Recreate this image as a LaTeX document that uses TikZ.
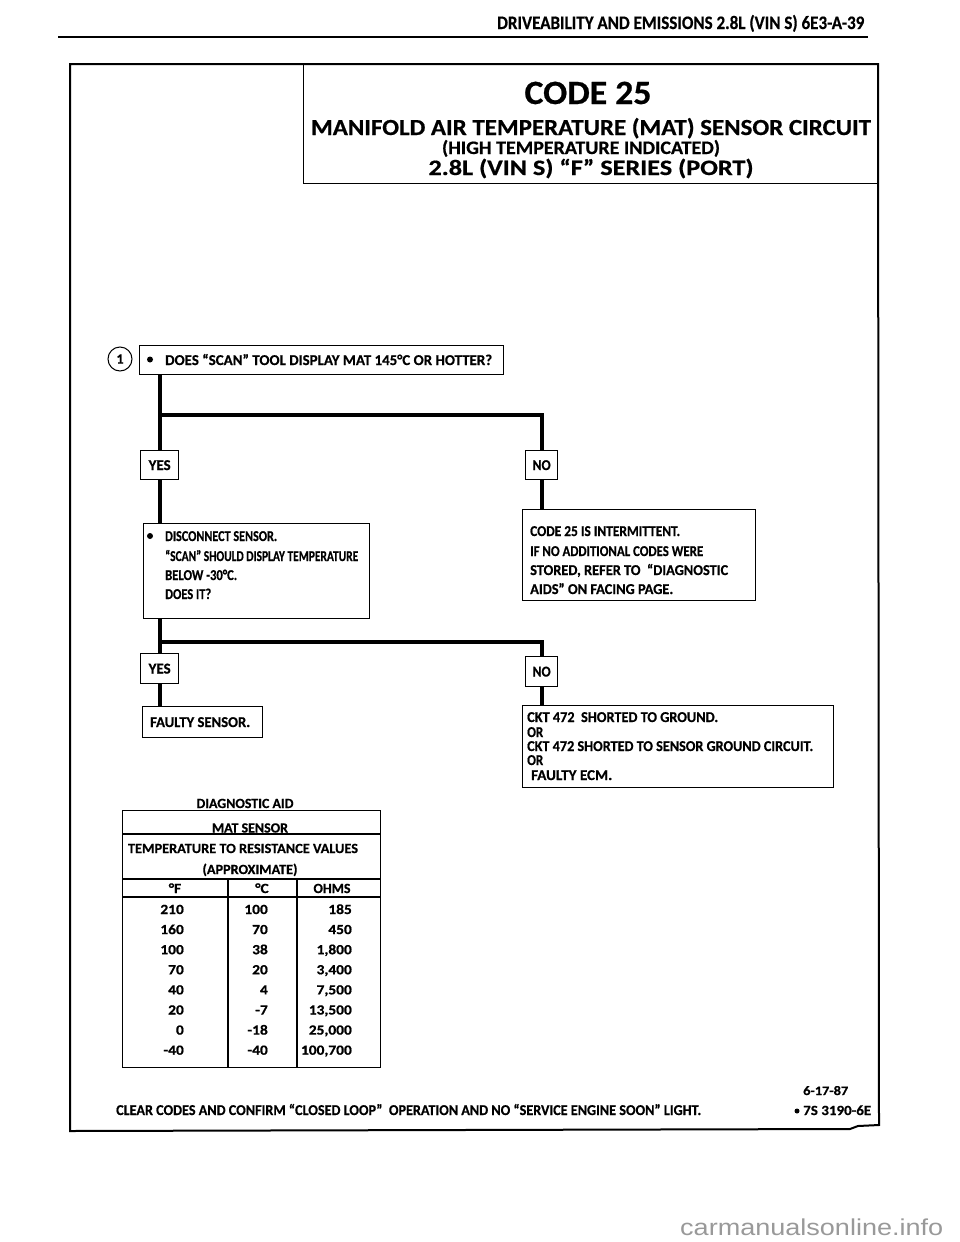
\documentclass[tikz,border=0pt]{standalone}
\usepackage{fontspec}
\usepackage{graphicx}
\setmainfont{Carlito}[BoldFeatures={FakeBold=0.6}]
\newfontfamily\wmfont{Liberation Sans}
\newcommand\fw[2]{\resizebox{#1pt}{\height}{#2}}
\newcommand\tb[1]{\scalebox{1.1}[1]{#1}}
\tikzset{
  frame/.style={line width=2pt},
  box/.style={draw, line width=1.3pt, inner sep=0pt, anchor=north west},
  conn/.style={line width=3.8pt},
  txt/.style={inner sep=0pt, anchor=base west, font=\bfseries\fontsize{15}{15}\selectfont},
  ctxt/.style={txt, anchor=base},
  rtxt/.style={txt, anchor=base east, font=\bfseries\fontsize{14}{14}\selectfont},
  ttxt/.style={txt, anchor=base, font=\bfseries\fontsize{14}{14}\selectfont},
  title/.style={inner sep=0pt, anchor=base},
  dot/.style={circle, fill, inner sep=0pt, minimum size=6pt},
}
\begin{document}
\begin{tikzpicture}[x=1pt,y=-1pt]
\useasboundingbox (0,0) rectangle (960,1242);

% page header
\node[txt, font=\bfseries\fontsize{19}{19}\selectfont] (hdr) at (497,29) {\fw{367}{DRIVEABILITY AND EMISSIONS 2.8L (VIN S) 6E3-A-39}};
\draw[line width=1.6pt] (58,37) -- (868,37);

% outer frame
\draw[frame] (70,64) -- (878,64) -- (879,1125) -- (858,1126) -- (850,1129) -- (70,1131) -- cycle;
% title box
\node[draw, line width=1.4pt, anchor=north west, inner sep=0pt, minimum width=575pt, minimum height=119pt] (tbox) at (303,64) {};
\node[title, font=\bfseries\fontsize{34}{34}\selectfont] (t1) at (588,104) {\fw{127}{CODE 25}};
\node[title, font=\bfseries\fontsize{23}{23}\selectfont] (t2) at (591,135) {\fw{560}{MANIFOLD AIR TEMPERATURE (MAT) SENSOR CIRCUIT}};
\node[title, font=\bfseries\fontsize{19}{19}\selectfont] (t3) at (581,154) {\fw{278}{(HIGH TEMPERATURE INDICATED)}};
\node[title, font=\bfseries\fontsize{22}{22}\selectfont] (t4) at (591,175) {\fw{325}{2.8L (VIN S) “F” SERIES (PORT)}};

% step 1
\node[draw, circle, line width=1pt, minimum size=24pt, inner sep=0pt, font=\bfseries\fontsize{14}{14}\selectfont] (c1) at (120,359) {1};
\node[box, minimum width=364pt, minimum height=29pt] (q1) at (139,345) {};
\node[dot] (b1) at (150,359.5) {};
\node[txt] (q1t) at (165,365) {\fw{327}{DOES “SCAN” TOOL DISPLAY MAT 145°C OR HOTTER?}};

\node[box, minimum width=38pt, minimum height=29pt, font=\bfseries\fontsize{15}{15}\selectfont] (yes1) at (140,450) {\fw{22}{YES}};
\node[box, minimum width=32pt, minimum height=29pt, font=\bfseries\fontsize{15}{15}\selectfont] (no1) at (525,450) {\fw{18}{NO}};

\node[box, minimum width=226pt, minimum height=95pt] (d2) at (143,523) {};
\node[dot] (b2) at (150,536) {};
\node[txt] (d2a) at (165,541) {\fw{112}{DISCONNECT SENSOR.}};
\node[txt] (d2b) at (165,561) {\fw{193}{“SCAN” SHOULD DISPLAY TEMPERATURE}};
\node[txt] (d2c) at (165,580) {\fw{72}{BELOW -30°C.}};
\node[txt] (d2d) at (165,599) {\fw{46}{DOES IT?}};

\node[box, minimum width=233pt, minimum height=91pt] (i3) at (522,509) {};
\node[txt] (i3a) at (530,536) {\fw{150}{CODE 25 IS INTERMITTENT.}};
\node[txt] (i3b) at (530,556) {\fw{173}{IF NO ADDITIONAL CODES WERE}};
\node[txt] (i3c) at (530,575) {\fw{198}{STORED, REFER TO \ “DIAGNOSTIC}};
\node[txt] (i3d) at (530,594) {\fw{143}{AIDS” ON FACING PAGE.}};

\node[box, minimum width=38pt, minimum height=30pt, font=\bfseries\fontsize{15}{15}\selectfont] (yes2) at (140,653) {\fw{22}{YES}};
\node[box, minimum width=32pt, minimum height=30pt, font=\bfseries\fontsize{15}{15}\selectfont] (no2) at (525,656) {\fw{18}{NO}};

\node[box, minimum width=120pt, minimum height=31pt] (fs) at (142,706) {};
\node[txt] (fst) at (150,727) {\fw{100}{FAULTY SENSOR.}};

\node[box, minimum width=311pt, minimum height=82pt] (ckt) at (522,705) {};
\node[txt] (ck1) at (527,722) {\fw{191}{CKT 472 \ SHORTED TO GROUND.}};
\node[txt] (ck2) at (527,737) {\fw{16}{OR}};
\node[txt] (ck3) at (527,751) {\fw{286}{CKT 472 SHORTED TO SENSOR GROUND CIRCUIT.}};
\node[txt] (ck4) at (527,765) {\fw{16}{OR}};
\node[txt] (ck5) at (531,780) {\fw{81}{FAULTY ECM.}};

% connectors
\coordinate (j1) at (159,415);
\coordinate (j2) at (159,642);
\draw[conn] (q1.south -| yes1.north) -- (yes1.north);
\draw[conn] (j1) -| (no1.north);
\draw[conn] (yes1.south) -- (yes1.south |- d2.north);
\draw[conn] (no1.south) -- (no1.south |- i3.north);
\draw[conn] (d2.south -| yes2.north) -- (yes2.north);
\draw[conn] (j2) -| (no2.north);
\draw[conn] (yes2.south) -- (yes2.south |- fs.north);
\draw[conn] (no2.south) -- (no2.south |- ckt.north);

% diagnostic aid table
\node[ttxt] (da) at (245,808) {\fw{97}{DIAGNOSTIC AID}};
\node[draw, line width=1.2pt, anchor=north west, inner sep=0pt, minimum width=258pt, minimum height=257pt] (tab) at (122,810) {};
\draw[line width=1.1pt] (122,834) -- (380,834);
\draw[line width=1.1pt] (122,879) -- (380,879);
\draw[line width=1.8pt] (122,897) -- (380,897);
\draw[line width=1.1pt] (228,879) -- (228,1067);
\draw[line width=1.1pt] (297,879) -- (297,1067);
\node[ttxt] (ms) at (250,832.5) {\fw{76}{MAT SENSOR}};
\node[ttxt] (tr) at (243,853) {\fw{230}{TEMPERATURE TO RESISTANCE VALUES}};
\node[ttxt] (ap) at (250,874) {\fw{95}{(APPROXIMATE)}};
\node[ttxt] (hF) at (175,893) {\tb{°F}};
\node[ttxt] (hC) at (262,893) {\tb{°C}};
\node[ttxt] (hO) at (332,893) {\fw{37}{OHMS}};
\foreach \f/\c/\o [count=\i from 0] in {210/100/185, 160/70/450, 100/38/{1,800}, 70/20/{3,400}, 40/4/{7,500}, 20/-7/{13,500}, 0/-18/{25,000}, -40/-40/{100,700}} {
  \node[rtxt] (f\i) at (184,914+20.1*\i) {\tb{\f}};
  \node[rtxt] (c\i) at (268,914+20.1*\i) {\tb{\c}};
  \node[rtxt] (o\i) at (352,914+20.1*\i) {\tb{\o}};
}

% footer
\node[txt] (clr) at (116,1115) {\fw{585}{CLEAR CODES AND CONFIRM “CLOSED LOOP” \ OPERATION AND NO “SERVICE ENGINE SOON” LIGHT.}};
\node[txt, font=\bfseries\fontsize{13}{13}\selectfont] (dt) at (803,1095) {\fw{45}{6-17-87}};
\node[dot, minimum size=5pt] (b3) at (797,1111) {};
\node[txt, font=\bfseries\fontsize{14}{14}\selectfont] (ref) at (803,1115) {\fw{68}{7S 3190-6E}};

% watermark
\node[inner sep=0pt, anchor=base west, text=black!40, font=\wmfont\fontsize{23}{23}\selectfont] (wm) at (680,1235) {\fw{263}{carmanualsonline.info}};
\end{tikzpicture}
\end{document}
